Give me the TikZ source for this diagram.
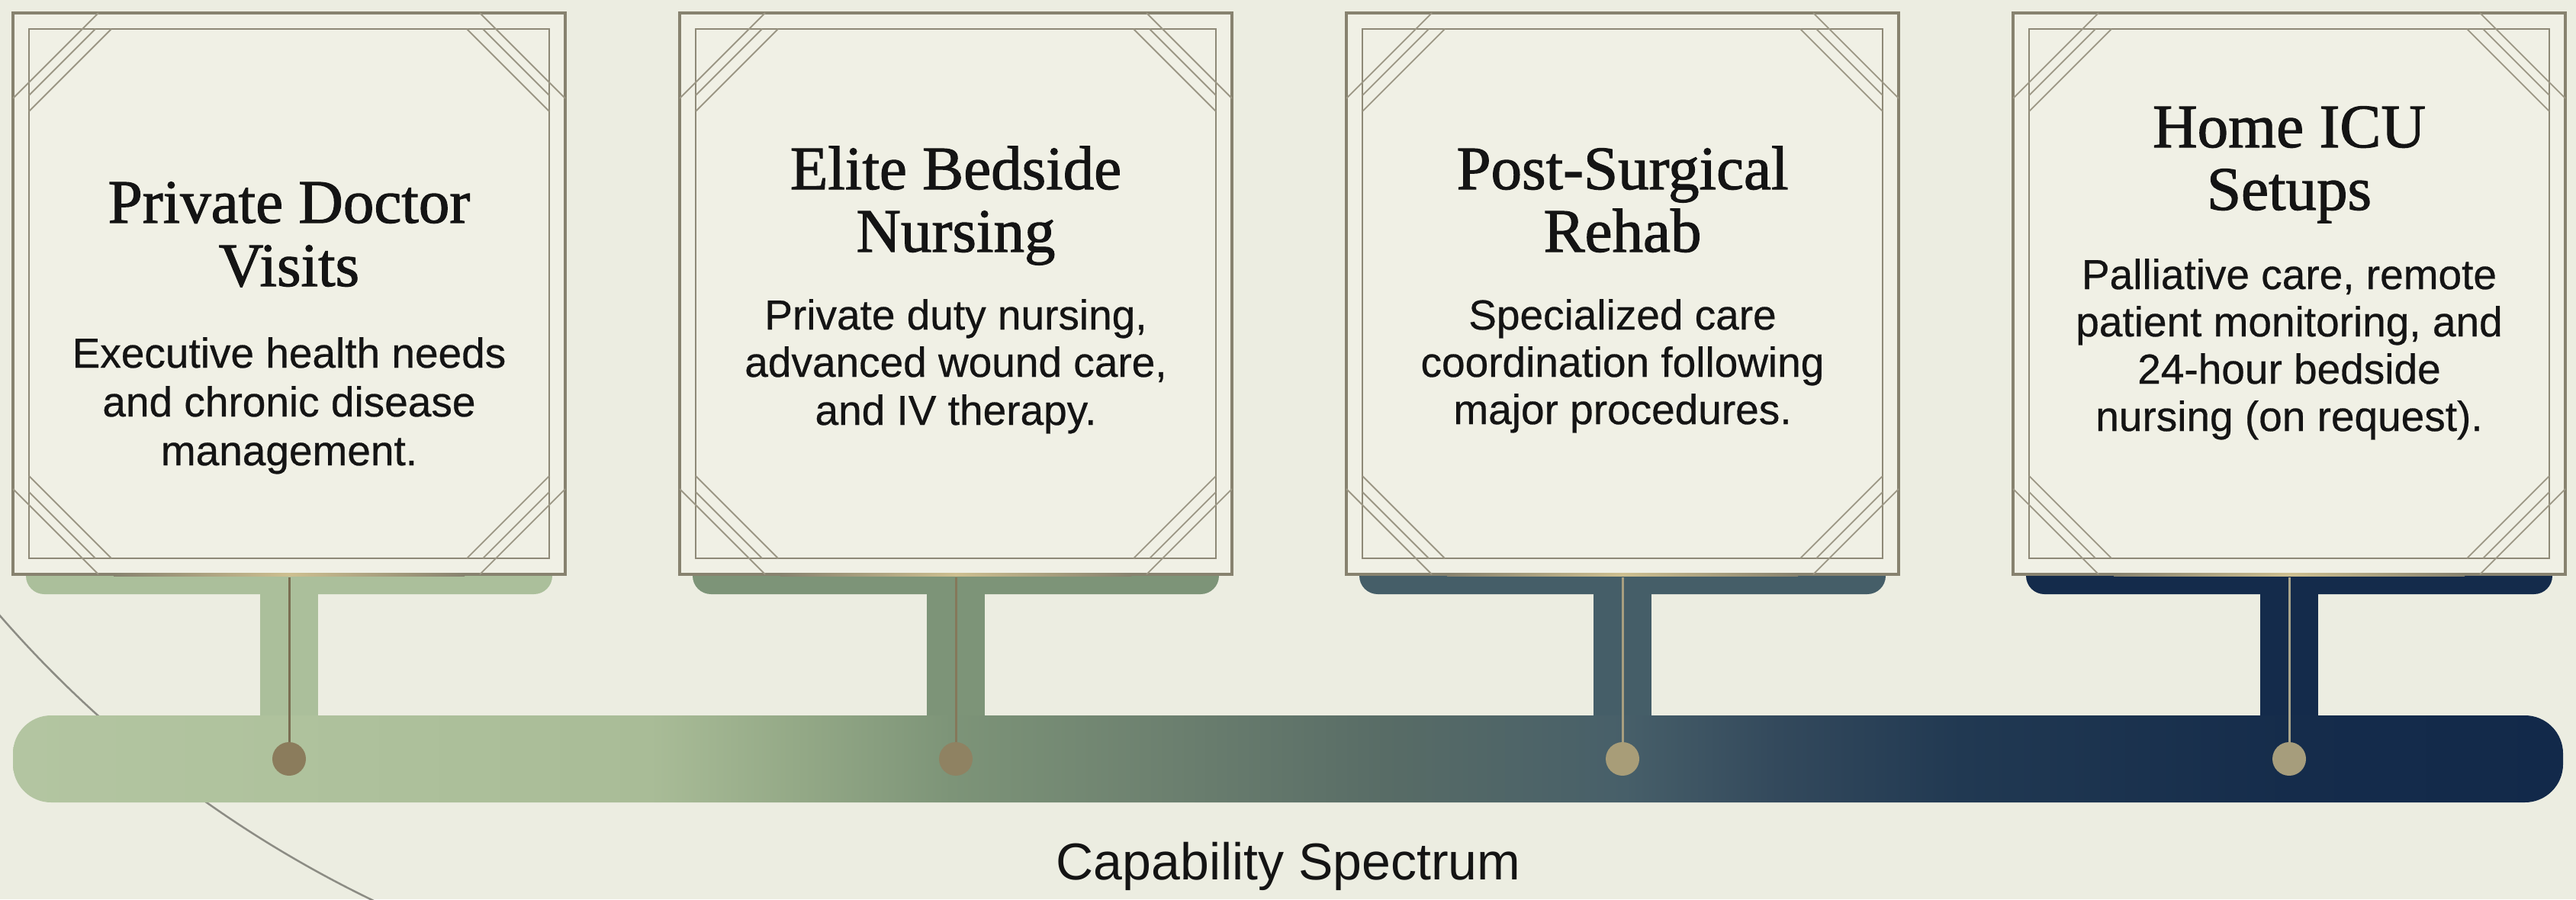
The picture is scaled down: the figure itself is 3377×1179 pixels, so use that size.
\documentclass[tikz,border=0pt]{standalone}
\usepackage{fontspec}
\setmainfont{Liberation Serif}
\newfontfamily\titlefont[FakeBold=1.4]{Liberation Serif}
\newfontfamily\bodyfont[FakeBold=0.5]{Liberation Sans}
\newfontfamily\lblfont{Liberation Sans}
\definecolor{bg}{HTML}{ECEDE1}
\definecolor{boxfill}{HTML}{F0F0E5}
\definecolor{frame}{HTML}{87826F}
\definecolor{glint}{HTML}{CDBF90}
\definecolor{frameinner}{HTML}{8E8977}
\definecolor{deco}{HTML}{9C9785}
\definecolor{ink}{HTML}{141414}
\definecolor{arcc}{HTML}{8C8C84}
\definecolor{c1}{HTML}{ABBF9B}
\definecolor{c2}{HTML}{7D9478}
\definecolor{c3}{HTML}{455E68}
\definecolor{c4}{HTML}{142B4B}
\definecolor{d1}{HTML}{8B7C5C}
\definecolor{d2}{HTML}{8F8262}
\definecolor{d3}{HTML}{A89D78}
\definecolor{d4}{HTML}{A69D7C}
\definecolor{l1}{HTML}{7A6E52}
\definecolor{l2}{HTML}{85785A}
\definecolor{l3}{HTML}{A89F80}
\definecolor{l4}{HTML}{A8A38A}
\definecolor{s0}{HTML}{B3C5A1}
\definecolor{s1}{HTML}{AFC29D}
\definecolor{s2}{HTML}{A9BC97}
\definecolor{s3}{HTML}{93A886}
\definecolor{s4}{HTML}{7D9478}
\definecolor{s5}{HTML}{6E8270}
\definecolor{s6}{HTML}{586C66}
\definecolor{s7}{HTML}{475F69}
\definecolor{s8}{HTML}{33495C}
\definecolor{s9}{HTML}{213952}
\definecolor{s10}{HTML}{152C4B}
\definecolor{s11}{HTML}{12294A}
\pgfdeclarehorizontalshading{spec}{100bp}{color(0bp)=(s0); color(25bp)=(s0); color(30.4bp)=(s1); color(37.5bp)=(s2); color(40.5bp)=(s3); color(43.4bp)=(s4); color(47.2bp)=(s5); color(51.9bp)=(s6); color(56.6bp)=(s7); color(59.6bp)=(s8); color(63.2bp)=(s9); color(69.6bp)=(s10); color(75bp)=(s11); color(100bp)=(s11)}
\begin{document}
\begin{tikzpicture}[x=1pt,y=-1pt,
  cardbox/.style={draw=frame, line width=4pt, fill=boxfill, minimum width=724pt, minimum height=736pt, inner sep=0pt, outer sep=0pt},
  innerframe/.style={draw=frameinner, line width=2.6pt},
  decoline/.style={draw=deco, line width=1.8pt},
  ttl/.style={anchor=base, inner sep=0pt, text=ink, font=\titlefont\fontsize{81pt}{81pt}\selectfont},
  bodytxt/.style={anchor=base, inner sep=0pt, text=ink, font=\bodyfont\fontsize{55pt}{55pt}\selectfont},
  lbl/.style={anchor=base, inner sep=0pt, text=ink, font=\lblfont\fontsize{68pt}{68pt}\selectfont},
  knob/.style={circle, minimum size=44pt, inner sep=0pt, outer sep=0pt},
  hangline/.style={line width=3pt},
  arcline/.style={draw=arcc, line width=2.5pt}
]
\useasboundingbox (0,0) rectangle (3377,1179);
\fill[bg] (0,0) rectangle (3377,1179);

% background arc
\begin{scope}
  \clip (0,0) rectangle (3377,1179);
  \draw[arcline] (1152,-195) ++(141:1527) arc[start angle=141, end angle=112, radius=1527];
\end{scope}

% shelves and stems
\foreach \cx/\col in {379/c1, 1253/c2, 2127/c3, 3001/c4} {
  \fill[\col, rounded corners=24pt] (\cx-345,725) rectangle (\cx+345,779);
  \fill[\col] (\cx-38,770) rectangle (\cx+38,948);
}

% spectrum bar
\shade[shading=spec, rounded corners=50pt] (17,938) rectangle (3360,1052);

% cards
\foreach \i/\cx in {1/379, 2/1253, 3/2127, 4/3001} {
  \node[cardbox] (b\i) at (\cx,385) {};
  \shade[left color=frame, right color=frame, middle color=glint] (\cx-230,751) rectangle (\cx+230,755);
  \draw[innerframe] ([shift={(21,21)}]b\i.north west) rectangle ([shift={(-21,-21)}]b\i.south east);
  \foreach \anc/\sx/\sy in {north west/1/1, north east/-1/1, south west/1/-1, south east/-1/-1} {
    \draw[decoline] ([shift={(0,\sy*112)}]b\i.\anc) -- ([shift={(\sx*112,0)}]b\i.\anc);
    \draw[decoline] ([shift={(\sx*21,\sy*108)}]b\i.\anc) -- ([shift={(\sx*108,\sy*21)}]b\i.\anc);
    \draw[decoline] ([shift={(\sx*21,\sy*129)}]b\i.\anc) -- ([shift={(\sx*129,\sy*21)}]b\i.\anc);
  }
  \node[knob, fill=d\i] (p\i) at (\cx,995) {};
  \draw[hangline, draw=l\i] ([yshift=-4pt]b\i.south) -- (p\i.north);
}

% texts
\node[ttl] (t1a) at (379,292) {Private Doctor};
\node[ttl] (t1b) at (379,375) {Visits};
\node[bodytxt] (d1a) at (379,482) {Executive health needs};
\node[bodytxt] (d1b) at (379,546) {and chronic disease};
\node[bodytxt] (d1c) at (379,610) {management.};

\node[ttl] (t2a) at (1253,248) {Elite Bedside};
\node[ttl] (t2b) at (1253,330) {Nursing};
\node[bodytxt] (d2a) at (1253,432) {Private duty nursing,};
\node[bodytxt] (d2b) at (1253,494) {advanced wound care,};
\node[bodytxt] (d2c) at (1253,557) {and IV therapy.};

\node[ttl] (t3a) at (2127,248) {Post-Surgical};
\node[ttl] (t3b) at (2127,330) {Rehab};
\node[bodytxt] (d3a) at (2127,432) {Specialized care};
\node[bodytxt] (d3b) at (2127,494) {coordination following};
\node[bodytxt] (d3c) at (2127,556) {major procedures.};

\node[ttl] (t4a) at (3001,193) {Home ICU};
\node[ttl] (t4b) at (3001,275) {Setups};
\node[bodytxt] (d4a) at (3001,379) {Palliative care, remote};
\node[bodytxt] (d4b) at (3001,441) {patient monitoring, and};
\node[bodytxt] (d4c) at (3001,503) {24-hour bedside};
\node[bodytxt] (d4d) at (3001,565) {nursing (on request).};

\node[lbl] (cap) at (1689,1153) {Capability Spectrum};
\end{tikzpicture}
\end{document}
